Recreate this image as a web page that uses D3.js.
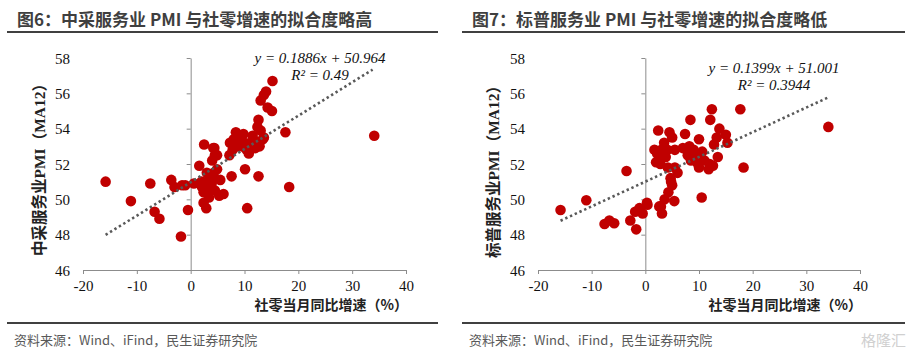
<!DOCTYPE html>
<html><head><meta charset="utf-8">
<script src="https://cdn.jsdelivr.net/npm/d3@7"></script>
<style>
body{margin:0;background:#fff;}
svg{display:block;}
</style></head>
<body>
<svg id="c" width="912" height="358"></svg>
<script>
// ---- data ----
const xTicks = [-20, -10, 0, 10, 20, 30, 40];
const yTicks = [46, 48, 50, 52, 54, 56, 58];

const leftTitle = "图6：中采服务业 PMI 与社零增速的拟合度略高";
const rightTitle = "图7：标普服务业 PMI 与社零增速的拟合度略低";
const leftYLabel = "中采服务业PMI（MA12）";
const rightYLabel = "标普服务业PMI（MA12）";
const xLabel = "社零当月同比增速（%）";
const sourceText = "资料来源：Wind、iFind，民生证券研究院";

const leftRetail = [-15.8,-11.1,-7.5,-6.7,-5.8,-3.6,-3.0,-1.6,-1.0,-0.5,-1.8,0.6,1.6,2.5,4.4,4.9,4.0,3.0,4.9,4.3,2.1,2.4,3.9,5.5,4.5,5.3,6.1,2.4,2.9,3.4,3.0,2.0,3.5,4.0,15.2,14.0,13.6,13.0,14.3,15.1,12.6,12.4,13.0,13.6,17.6,34.1,18.3,10.5,12.6,10.1,7.6,8.4,7.3,7.2,9.2,10.4,10.8,11.1,12.0,9.8,8.6,8.0,13.4,11.5,12.0,9.5,10.0,7.8,12.8,4.2,4.5];
const leftPMI = [51.0,49.9,50.9,49.3,48.9,51.1,50.7,50.8,50.8,49.4,47.9,50.9,51.9,53.1,52.9,52.5,52.2,51.5,51.7,51.5,50.7,50.4,50.9,51.1,50.5,50.2,50.3,49.8,49.5,50.1,51.0,51.0,50.6,51.2,56.7,56.1,55.9,55.6,55.2,55.0,54.5,54.1,53.9,53.5,53.8,53.6,50.7,49.5,51.3,51.7,51.3,53.8,53.2,52.5,53.4,52.8,52.6,53.2,53.3,53.7,53.0,53.4,53.4,53.6,52.9,53.0,53.2,52.8,53.0,52.9,52.5];

const rightRetail = [-15.8,-11.0,-7.6,-6.7,-5.8,-3.5,-2.8,-1.7,-1.9,-1.1,-0.5,0.4,2.4,1.7,2.0,2.9,3.1,3.6,4.3,5.0,5.4,4.5,5.0,5.5,3.5,4.1,2.8,4.2,6.0,5.5,12.4,17.7,8.4,12.1,34.1,13.8,7.4,15.0,13.3,10.0,15.3,12.8,8.2,7.0,10.6,13.5,9.6,7.9,9.7,12.6,10.0,11.8,18.3,10.5,4.7,3.8,2.9,2.2,3.0,4.8,11.0,12.0,9.0,8.5,0.3,2.6];
const rightPMI = [49.4,49.95,48.6,48.8,48.65,51.6,48.8,48.3,49.3,49.5,49.2,49.7,53.9,52.8,52.1,49.6,49.2,50.0,50.4,50.8,49.9,53.8,53.5,52.8,53.2,52.8,52.0,51.8,51.5,51.8,55.1,55.1,54.5,54.5,54.1,54.0,53.7,53.65,53.5,53.4,53.2,53.1,53.0,52.9,52.7,52.4,52.4,52.5,52.05,51.9,51.8,51.7,51.8,50.1,51.2,52.4,52.3,52.6,52.8,51.0,52.2,52.0,52.8,52.2,49.8,49.6];

const leftFit = {slope: 0.1886, intercept: 50.964, eq: "y = 0.1886x + 50.964", r2: "R² = 0.49", xFrom: -15.8, xTo: 33.8};
const rightFit = {slope: 0.1399, intercept: 51.001, eq: "y = 0.1399x + 51.001", r2: "R² = 0.3944", xFrom: -15.8, xTo: 34.0};

// ---- drawing ----
const svg = d3.select("#c");
const serif = "'Liberation Serif','Times New Roman',serif";
const cjk = "'Noto Sans CJK SC','Noto Sans',sans-serif";
const axisColor = "#8c8c8c";
const dotColor = "#C00000";
const fmt = d => String(d);

function panel(o) {
  const g = svg.append("g");
  // header
  g.append("text").attr("x", o.titleX).attr("y", 26)
    .attr("font-family", cjk).attr("font-weight", "bold").attr("font-size", 17)
    .attr("fill", "#3f3f3f").text(o.title);
  g.append("line").attr("x1", o.lineX1).attr("x2", o.lineX2).attr("y1", 32).attr("y2", 32)
    .attr("stroke", "#404040").attr("stroke-width", 2.2);
  g.append("line").attr("x1", o.lineX1).attr("x2", o.lineX2).attr("y1", 323).attr("y2", 323)
    .attr("stroke", "#404040").attr("stroke-width", 2.2);
  g.append("text").attr("x", o.titleX - 3).attr("y", 345)
    .attr("font-family", cjk).attr("font-size", 13).attr("fill", "#595959").text(sourceText);

  const x = d3.scaleLinear().domain([-20, 40]).range(o.xRange);
  const y = d3.scaleLinear().domain([46, 58]).range([270, 58]);

  // y axis at x=0
  const yAx = g.append("g").attr("transform", `translate(${x(0)},0)`)
    .call(d3.axisLeft(y).tickValues(yTicks).tickSize(4).tickSizeOuter(0).tickFormat(fmt));
  yAx.select(".domain").attr("stroke", axisColor);
  yAx.selectAll(".tick line").attr("stroke", axisColor);
  yAx.selectAll(".tick text").attr("x", o.xRange[0] - 13 - x(0)).attr("text-anchor", "end")
    .attr("font-family", serif).attr("font-size", 15).attr("fill", "#111").attr("dy", "0.34em");

  // x axis at y=46
  const xAx = g.append("g").attr("transform", `translate(0,${y(46)})`)
    .call(d3.axisBottom(x).tickValues(xTicks).tickSize(4).tickSizeOuter(0).tickFormat(fmt));
  xAx.select(".domain").attr("stroke", axisColor);
  xAx.selectAll(".tick line").attr("stroke", axisColor);
  xAx.selectAll(".tick text").attr("y", 21).attr("dy", 0)
    .attr("font-family", serif).attr("font-size", 15).attr("fill", "#111");

  // axis titles
  g.append("text").attr("x", x(40) + 2).attr("y", 310).attr("text-anchor", "end")
    .attr("font-family", cjk).attr("font-weight", "bold").attr("font-size", 14)
    .attr("fill", "#222").text(xLabel);
  g.append("text").attr("transform", `translate(${o.yLabelX},${o.yLabelY}) rotate(-90)`)
    .attr("text-anchor", "middle")
    .attr("font-family", "'Liberation Serif','Noto Sans CJK SC',serif").attr("font-weight", "bold").attr("font-size", 15.5)
    .attr("fill", "#222").text(o.yLabel);

  // dots
  g.append("g").selectAll("circle").data(o.xs.map((v, i) => [v, o.ys[i]])).join("circle")
    .attr("cx", d => x(d[0])).attr("cy", d => y(d[1])).attr("r", 5.3).attr("fill", dotColor);

  // trend line
  const f = o.fit;
  g.append("line")
    .attr("x1", x(f.xFrom)).attr("y1", y(f.slope * f.xFrom + f.intercept))
    .attr("x2", x(f.xTo)).attr("y2", y(f.slope * f.xTo + f.intercept))
    .attr("stroke", "#595959").attr("stroke-width", 2.6).attr("stroke-dasharray", "2.4,2.8");

  g.append("text").attr("x", o.eqX).attr("y", o.eqY).attr("text-anchor", "middle")
    .attr("font-family", serif).attr("font-style", "italic").attr("font-size", 15)
    .attr("fill", "#111").text(f.eq);
  g.append("text").attr("x", o.eqX).attr("y", o.eqY + 17).attr("text-anchor", "middle")
    .attr("font-family", serif).attr("font-style", "italic").attr("font-size", 15)
    .attr("fill", "#111").text(f.r2);
}

panel({title: leftTitle, titleX: 17, lineX1: 7, lineX2: 438, xRange: [83, 406],
  yLabel: leftYLabel, yLabelX: 45, yLabelY: 166, xs: leftRetail, ys: leftPMI, fit: leftFit, eqX: 320, eqY: 63});
panel({title: rightTitle, titleX: 472, lineX1: 462, lineX2: 905, xRange: [538, 860],
  yLabel: rightYLabel, yLabelX: 499, yLabelY: 168, xs: rightRetail, ys: rightPMI, fit: rightFit, eqX: 774, eqY: 73});

// watermark
svg.append("text").attr("x", 906).attr("y", 346).attr("text-anchor", "end")
  .attr("font-family", cjk).attr("font-size", 15).attr("fill", "#d0d0d0").text("格隆汇");
</script>
</body></html>
